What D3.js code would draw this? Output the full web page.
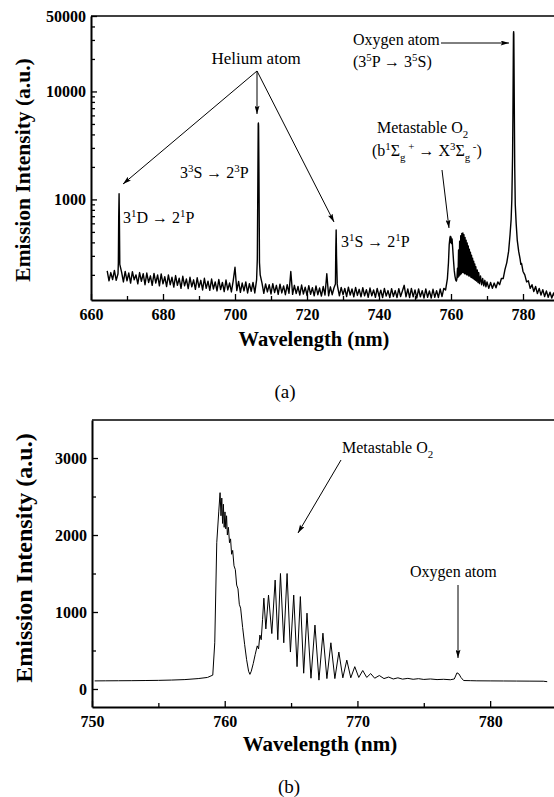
<!DOCTYPE html>
<html>
<head>
<meta charset="utf-8">
<script src="https://cdn.jsdelivr.net/npm/d3@7"></script>
<style>
  body { margin: 0; background: #fff; }
  svg { display: block; }
  text { font-family: "Liberation Serif", "Times New Roman", serif; fill: #000; }
  .tick text { font-weight: bold; font-size: 16px; }
</style>
</head>
<body>
<script>
// ---- panel (a): full spectrum, log scale  [wavelength nm, intensity a.u.]
const spectrumA = [
  [664.5,218],[665,176],[665.5,210],[666,181],[666.5,220],[667,178],[667.5,205],
  [667.6,260],[667.7,700],[667.8,1130],[667.9,600],[668,250],
  [668.5,212],[669,172],[669.5,215],[670,176],[670.5,208],[671,168],[671.5,214],[672,180],[672.5,200],[673,165],
  [673.5,210],[674,174],[674.5,205],[675,162],[675.5,208],[676,170],[676.5,196],[677,160],[677.5,206],[678,168],
  [678.5,200],[679,158],[679.5,204],[680,165],[680.5,192],[681,156],[681.5,200],[682,162],[682.5,190],[683,154],
  [683.5,197],[684,160],[684.5,186],[685,150],[685.5,194],[686,158],[686.5,183],[687,149],[687.5,190],[688,155],
  [688.5,180],[689,147],[689.5,188],[690,153],[690.5,178],[691,145],[691.5,186],[692,150],[692.5,175],[693,144],
  [693.5,183],[694,148],[694.5,172],[695,142],[695.5,181],[696,146],[696.5,170],[697,140],[697.5,179],[698,145],
  [698.5,168],[699,139],[699.5,176],[700,235],[700.5,143],[701,174],[701.5,138],[702,168],[702.5,142],[703,172],
  [703.5,136],[704,166],[704.5,141],[705,170],[705.5,136],[706,180],
  [706.2,280],[706.35,1500],[706.45,5000],[706.5,5100],[706.55,4800],[706.65,1800],[706.8,260],[707,200],
  [707.5,168],[708,135],[708.5,165],[709,139],[709.5,162],[710,133],[710.5,166],[711,137],[711.5,160],[712,132],
  [712.5,164],[713,136],[713.5,158],[714,131],[714.5,162],[715,135],[715.5,215],[716,132],[716.5,160],[717,134],
  [717.5,156],[718,130],[718.5,161],[719,133],[719.5,154],[720,129],[720.5,159],[721,132],[721.5,152],[722,128],
  [722.5,158],[723,131],[723.5,151],[724,127],[724.5,156],[725,130],[725.5,205],[726,128],[726.5,155],[727,131],
  [727.5,152],[727.9,165],[728,350],[728.1,520],[728.2,300],[728.4,165],
  [728.5,156],[729,128],[729.5,153],[730,131],[730.5,150],[731,126],[731.5,154],[732,130],[732.5,148],[733,125],
  [733.5,153],[734,129],[734.5,147],[735,125],[735.5,152],[736,128],[736.5,146],[737,124],[737.5,151],[738,128],
  [738.5,145],[739,124],[739.5,150],[740,127],[740.5,144],[741,123],[741.5,150],[742,127],[742.5,143],[743,123],
  [743.5,149],[744,126],[744.5,143],[745,123],[745.5,149],[746,126],[746.5,142],[747,160],[747.5,125],[748,148],
  [748.5,123],[749,150],[749.5,125],[750,145],[750.5,122],[751,148],[751.5,125],[752,143],[752.5,122],[753,148],
  [753.5,124],[754,142],[754.5,122],[755,147],[755.5,124],[756,143],[756.5,123],[757,148],[757.5,126],[758,150],
  [758.5,145],[759,185],
  [759.3,260],[759.5,380],[759.7,440],[759.8,455],[759.9,400],[760,450],[760.1,390],[760.3,430],[760.5,340],
  [760.7,270],[760.9,220],[761.1,195],[761.3,180],[761.5,175],[761.65,185],
  [761.8,230],[761.95,190],[762.1,340],[762.25,195],[762.4,410],[762.55,200],[762.7,460],[762.85,205],[763,485],
  [763.15,210],[763.3,490],[763.45,210],[763.6,470],[763.75,205],[763.9,445],[764.05,205],[764.2,420],[764.35,200],
  [764.5,395],[764.65,200],[764.8,370],[764.95,195],[765.1,345],[765.25,195],[765.4,325],[765.55,190],[765.7,305],
  [765.85,188],[766,285],[766.15,185],[766.3,268],[766.45,182],[766.6,252],[766.75,178],[766.9,238],[767.1,175],
  [767.3,222],[767.5,170],[767.7,210],[767.9,166],[768.2,195],[768.5,162],[768.8,185],[769.1,158],[769.4,178],
  [769.7,155],[770,172],[770.5,150],[771,170],[771.5,150],[772,168],[772.5,152],[773,172],[773.5,162],[774,185],
  [774.5,185],[775,225],[775.5,260],[776,330],[776.4,470],[776.7,650],[776.9,1000],[777.1,2500],[777.2,6000],
  [777.3,20000],[777.35,34000],[777.4,35800],[777.45,34000],[777.5,20000],[777.6,6000],[777.7,2000],[777.85,900],
  [778.1,600],[778.4,420],[778.8,330],[779.2,280],[779.4,250],[779.6,255],[780,215],[780.5,200],[781,172],
  [781.5,176],[782,150],[782.5,162],[783,140],[783.5,156],[784,134],[784.5,150],[785,130],[785.5,146],[786,126],
  [786.5,142],[787,124],[787.5,138],[788,122],[788.5,136],[789,121],[789.5,134],[790,124]
];

// ---- panel (b): O2 band, linear scale
const spectrumB = [
  [750.2,105],[751,106],[752,107],[753,108],[754,110],[755,112],[756,116],[757,122],[758,135],[758.7,150],
  [759.1,180],[759.25,600],[759.4,1900],[759.55,2300],[759.65,2550],[759.72,2250],[759.78,2480],[759.84,2150],
  [759.9,2400],[759.96,2100],[760.02,2300],[760.08,2080],[760.14,2250],[760.2,2000],[760.28,2100],[760.36,1900],
  [760.44,1950],[760.52,1750],[760.6,1800],[760.7,1600],[760.8,1550],[760.9,1350],[761,1300],[761.1,1100],
  [761.2,1050],[761.35,800],[761.5,580],[761.65,380],[761.8,230],[761.9,190],[762,230],[762.15,330],[762.3,450],
  [762.45,560],[762.55,520],[762.65,700],[762.75,640],[762.85,900],
  [762.95,1180],[763.1,780],[763.3,1220],[763.55,720],[763.8,1415],[764,640],[764.2,1500],[764.45,600],
  [764.7,1500],[764.95,480],[765.2,1220],[765.45,290],[765.7,1200],[765.95,205],[766.2,985],[766.5,140],
  [766.8,830],[767.1,115],[767.4,725],[767.7,135],[768,600],[768.3,135],[768.6,480],[768.9,145],[769.2,375],
  [769.5,145],[769.8,290],[770.1,150],[770.4,240],[770.7,150],[771,200],[771.3,140],[771.65,175],[772,135],
  [772.35,155],[772.7,130],[773.05,145],[773.4,128],[773.8,138],[774.2,126],[774.6,134],[775,124],[775.5,130],
  [776,122],[776.5,126],[777,120],[777.3,130],[777.5,210],[777.65,195],[777.8,150],[778,110],[778.5,108],
  [779,106],[780,105],[781,104],[782,103],[783,102],[784,101],[784.3,95]
];

// axis ticks
const xMajorA = [660, 680, 700, 720, 740, 760, 780];
const xMinorA = [670, 690, 710, 730, 750, 770, 790];
const yMajorA = [1000, 10000, 50000];
const yMinorA = [200, 300, 400, 500, 600, 700, 800, 900, 2000, 3000, 4000, 5000, 6000, 7000, 8000, 9000, 20000, 30000, 40000];
const xMajorB = [750, 760, 770, 780];
const xMinorB = [755, 765, 775];
const yMajorB = [0, 1000, 2000, 3000];
const yMinorB = [500, 1500, 2500];

const w = 554, h = 797;
const svg = d3.select("body").append("svg").attr("width", w).attr("height", h);

const defs = svg.append("defs");
defs.append("marker")
  .attr("id", "head")
  .attr("viewBox", "0 0 10 6")
  .attr("refX", 10).attr("refY", 3)
  .attr("markerWidth", 9).attr("markerHeight", 5)
  .attr("markerUnits", "userSpaceOnUse")
  .attr("orient", "auto")
  .append("path").attr("d", "M0,0 L10,3 L0,6 L2,3 Z").attr("fill", "#000");

// draw a panel frame + ticks
function frame(xs, ys, xMaj, xMin, yMaj, yMin, yFmt) {
  const [x0, x1] = xs.range();
  const [yb, yt] = ys.range();
  const g = svg.append("g");

  g.append("g").attr("transform", `translate(0,${yb})`)
    .call(d3.axisBottom(xs).tickValues(xMin).tickSize(-4).tickFormat(""))
    .call(a => a.select(".domain").remove());
  g.append("g").attr("transform", `translate(0,${yb})`)
    .call(d3.axisBottom(xs).tickValues(xMaj).tickSize(-6).tickSizeOuter(0).tickPadding(9).tickFormat(d3.format("d")))
    .call(a => a.select(".domain").attr("stroke-width", 2));

  g.append("g").attr("transform", `translate(${x0},0)`)
    .call(d3.axisLeft(ys).tickValues(yMin).tickSize(-4).tickFormat(""))
    .call(a => a.select(".domain").remove());
  g.append("g").attr("transform", `translate(${x0},0)`)
    .call(d3.axisLeft(ys).tickValues(yMaj).tickSize(-6).tickSizeOuter(0).tickPadding(5).tickFormat(yFmt))
    .call(a => a.select(".domain").attr("stroke-width", 2));

  g.selectAll(".tick line").attr("stroke-width", 1.3);

  // top border
  g.append("line").attr("x1", x0).attr("x2", x1).attr("y1", yt).attr("y2", yt)
    .attr("stroke", "#000").attr("stroke-width", 1.6);
  return g;
}

function richText(x, y, size, parts, anchor) {
  const t = svg.append("text").attr("x", x).attr("y", y)
    .attr("font-size", size).attr("text-anchor", anchor || "start");
  let shift = 0;
  parts.forEach(p => {
    const [str, kind] = typeof p === "string" ? [p, "n"] : p;
    const target = kind === "sup" ? -0.38 * size : kind === "sub" ? 0.3 * size : 0;
    const ts = t.append("tspan").text(str).attr("dy", target - shift);
    if (kind !== "n") ts.attr("font-size", size * 0.68);
    shift = target;
  });
  return t;
}

function arrow(x1, y1, x2, y2) {
  svg.append("line").attr("x1", x1).attr("y1", y1).attr("x2", x2).attr("y2", y2)
    .attr("stroke", "#000").attr("stroke-width", 1).attr("marker-end", "url(#head)");
}

// ================= panel (a)
const xA = d3.scaleLinear().domain([660, 790]).range([91, 559]);
const yA = d3.scaleLog().domain([117, 50000]).range([300, 16]);

defs.append("clipPath").attr("id", "clipA").append("rect")
  .attr("x", 91).attr("y", 16).attr("width", 468).attr("height", 284);

svg.append("path")
  .datum(spectrumA)
  .attr("clip-path", "url(#clipA)")
  .attr("fill", "none").attr("stroke", "#000").attr("stroke-width", 1.4)
  .attr("stroke-linejoin", "round")
  .attr("d", d3.line().x(d => xA(d[0])).y(d => yA(d[1])));

frame(xA, yA, xMajorA, xMinorA, yMajorA, yMinorA, d3.format("d"));

svg.append("text").attr("transform", "translate(30,170) rotate(-90)")
  .attr("text-anchor", "middle").attr("font-size", 21.5).attr("font-weight", "bold")
  .text("Emission Intensity (a.u.)");
svg.append("text").attr("x", 314).attr("y", 346)
  .attr("text-anchor", "middle").attr("font-size", 20.5).attr("font-weight", "bold")
  .text("Wavelength (nm)");
svg.append("text").attr("x", 285).attr("y", 398)
  .attr("text-anchor", "middle").attr("font-size", 19).text("(a)");

// annotations (a)
svg.append("text").attr("x", 256).attr("y", 64).attr("text-anchor", "middle")
  .attr("font-size", 17).text("Helium atom");
arrow(257, 71, 123, 184);
arrow(257, 71, 257, 114);
arrow(257, 71, 334, 222);

richText(180, 178, 16, ["3", ["3", "sup"], ["S \u2192 2", "n"], ["3", "sup"], ["P", "n"]]);
richText(123, 223, 16, ["3", ["1", "sup"], ["D \u2192 2", "n"], ["1", "sup"], ["P", "n"]]);
richText(341, 247, 16, ["3", ["1", "sup"], ["S \u2192 2", "n"], ["1", "sup"], ["P", "n"]]);

richText(353, 45, 16, ["Oxygen atom"]);
arrow(441, 43, 509, 43);
richText(353, 67, 16, ["(3", ["5", "sup"], ["P \u2192 3", "n"], ["5", "sup"], ["S)", "n"]]);

richText(377, 133, 16, ["Metastable O", ["2", "sub"]]);
richText(372, 156, 16, ["(b", ["1", "sup"], ["\u03a3", "n"], ["g", "sub"], [" +", "sup"], [" \u2192 X", "n"],
  ["3", "sup"], ["\u03a3", "n"], ["g", "sub"], [" -", "sup"], [")", "n"]]);
arrow(442, 170, 449, 228);

// ================= panel (b)
const xB = d3.scaleLinear().domain([750, 785]).range([92, 556.5]);
const yB = d3.scaleLinear().domain([-234, 3494]).range([707, 420]);

defs.append("clipPath").attr("id", "clipB").append("rect")
  .attr("x", 92).attr("y", 420).attr("width", 465).attr("height", 287);

svg.append("path")
  .datum(spectrumB)
  .attr("clip-path", "url(#clipB)")
  .attr("fill", "none").attr("stroke", "#000").attr("stroke-width", 1)
  .attr("stroke-linejoin", "round")
  .attr("d", d3.line().x(d => xB(d[0])).y(d => yB(d[1])));

frame(xB, yB, xMajorB, xMinorB, yMajorB, yMinorB, d3.format("d"));

svg.append("text").attr("transform", "translate(32,558) rotate(-90)")
  .attr("text-anchor", "middle").attr("font-size", 24).attr("font-weight", "bold")
  .text("Emission Intensity (a.u.)");
svg.append("text").attr("x", 320).attr("y", 751)
  .attr("text-anchor", "middle").attr("font-size", 21).attr("font-weight", "bold")
  .text("Wavelength (nm)");
svg.append("text").attr("x", 289).attr("y", 793)
  .attr("text-anchor", "middle").attr("font-size", 19).text("(b)");

richText(342, 453, 16, ["Metastable O", ["2", "sub"]]);
arrow(341, 460, 298, 533);
richText(410, 577, 16, ["Oxygen atom"]);
arrow(458, 585, 458, 658);
</script>
</body>
</html>
